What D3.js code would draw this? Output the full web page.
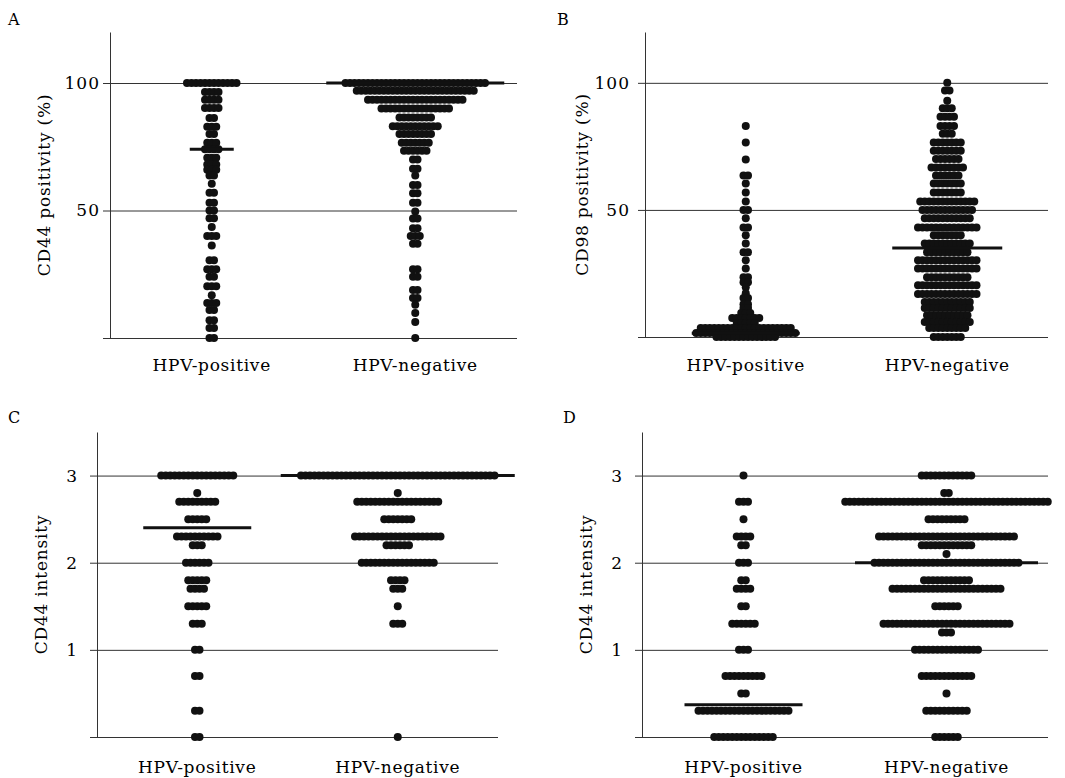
<!DOCTYPE html>
<html>
<head>
<meta charset="utf-8">
<script src="https://cdn.jsdelivr.net/npm/d3@7"></script>
<style>
  body { margin: 0; background: #fff; }
  svg text { font-family: "DejaVu Serif", "Liberation Serif", serif; fill: #000; }
</style>
</head>
<body>
<svg id="chart" width="1065" height="778"></svg>
<script>
let groups = ["HPV-positive", "HPV-negative"];

// each row of dots: [value, number of samples at that value]
let cd44PctPositive = [
  [100, 12], [96.5, 4], [93.4, 4], [90.2, 4], [86.3, 2], [82.8, 3], [80, 2], [76.6, 3],
  [74, 4], [70.7, 3], [68, 3], [66, 3], [63.7, 2], [60.5, 1], [57, 2], [53, 2], [50, 2],
  [47, 2], [43.5, 1], [40, 3], [36.3, 1], [30.5, 2], [27, 3], [24, 2], [20.3, 3], [16.8, 1],
  [13.7, 3], [11, 2], [7, 2], [3.9, 2], [0, 2]
];
let cd44PctNegative = [
  [100, 32], [97, 27], [93.4, 22], [90, 16], [86.5, 8], [83, 11], [80, 8], [76.6, 7],
  [73.4, 6], [70, 2], [66.4, 2], [63.7, 1], [60, 2], [56.8, 2], [53, 2], [49.6, 1],
  [46.9, 2], [43, 2], [40, 3], [37, 2], [27, 2], [24, 2], [18.8, 2], [15.7, 2], [13, 1],
  [9.8, 1], [6.3, 1], [0, 1]
];
let cd98PctPositive = [
  [83, 1], [76.5, 1], [69.8, 1], [63.5, 2], [60.4, 1], [56.9, 1], [53.3, 1], [50, 2],
  [46.7, 1], [43.1, 2], [40, 1], [36.8, 1], [33.3, 2], [30.2, 1], [27, 1], [23.5, 2],
  [21.5, 2], [19.6, 1], [17.2, 1], [15.3, 2], [12.9, 2], [11.4, 2], [9.4, 3], [7.5, 7],
  [5.5, 5], [3.5, 21], [1.6, 23], [0, 14]
];
let cd98PctNegative = [
  [100, 1], [97, 2], [93, 1], [90, 3], [86.7, 4], [83, 4], [80, 3], [76.5, 7], [73.3, 7],
  [70, 6], [66.7, 8], [63.5, 6], [60.4, 7], [56.9, 7], [53.3, 13], [50, 12], [46.7, 11],
  [43.1, 14], [40, 7], [36.8, 11], [33.3, 10], [30.2, 14], [27, 14], [23.5, 10], [20.4, 14],
  [16.9, 14], [13.8, 11], [11.4, 11], [8.6, 10], [5.9, 11], [3.5, 9], [0, 7]
];
let cd44IntPositiveC = [
  [3, 17], [2.8, 1], [2.7, 9], [2.5, 5], [2.3, 10], [2.2, 3], [2, 6], [1.8, 5], [1.7, 4],
  [1.5, 5], [1.3, 3], [1, 2], [0.7, 2], [0.3, 2], [0, 2]
];
let cd44IntNegativeC = [
  [3, 44], [2.8, 1], [2.7, 19], [2.5, 7], [2.3, 20], [2.2, 6], [2, 17], [1.8, 4], [1.7, 3],
  [1.5, 1], [1.3, 3], [0, 1]
];
let cd44IntPositiveD = [
  [3, 1], [2.7, 3], [2.5, 1], [2.3, 4], [2.2, 2], [2, 3], [1.8, 2], [1.7, 4], [1.5, 2],
  [1.3, 6], [1, 3], [0.7, 9], [0.5, 2], [0.3, 21], [0, 14]
];
let cd44IntNegativeD = [
  [3, 12], [2.8, 2], [2.7, 46], [2.5, 9], [2.3, 31], [2.2, 12], [2.1, 1], [2, 33], [1.8, 11],
  [1.7, 25], [1.5, 6], [1.3, 29], [1.2, 3], [1, 15], [0.7, 12], [0.5, 1], [0.3, 10], [0, 6]
];

let meansA = [74, 100];
let meansB = [1.5, 35];
let meansC = [2.4, 3];
let meansD = [0.37, 2];

let pctTicks = [0, 50, 100];
let intTicks = [0, 1, 2, 3];

// layout of the four panels
let panels = [
  { letter: "A", lx: 8, ly: 25, axisX: 110, right: 517, top: 32, bottom: 338, labelY: 371,
    titleX: 50, title: "CD44 positivity (%)", domain: [0, 120], ticks: pctTicks, pad: 10,
    rows: [cd44PctPositive, cd44PctNegative], means: meansA, meanW: [44, 178] },
  { letter: "B", lx: 557, ly: 25, axisX: 645, right: 1048, top: 32, bottom: 337, labelY: 371,
    titleX: 588, title: "CD98 positivity (%)", domain: [0, 120], ticks: pctTicks, pad: 15,
    rows: [cd98PctPositive, cd98PctNegative], means: meansB, meanW: [108, 110] },
  { letter: "C", lx: 8, ly: 423, axisX: 97, right: 498, top: 432, bottom: 737, labelY: 773,
    titleX: 47, title: "CD44 intensity", domain: [0, 3.5], ticks: intTicks, pad: 19,
    rows: [cd44IntPositiveC, cd44IntNegativeC], means: meansC, meanW: [108, 234] },
  { letter: "D", lx: 563, ly: 423, axisX: 642, right: 1048, top: 432, bottom: 737, labelY: 773,
    titleX: 592, title: "CD44 intensity", domain: [0, 3.5], ticks: intTicks, pad: 19,
    rows: [cd44IntPositiveD, cd44IntNegativeD], means: meansD, meanW: [118, 183] }
];

let svg = d3.select("#chart");
let dotR = 4;
let dotStep = 4.5;

panels.forEach(function (p) {
  let g = svg.append("g");

  let y = d3.scaleLinear().domain(p.domain).range([p.bottom, p.top]);
  let x = d3.scalePoint().domain(groups).range([p.axisX, p.right]).padding(0.5);

  let axis = g.append("g")
    .attr("transform", `translate(${p.axisX},0)`)
    .call(
      d3.axisLeft(y)
        .tickValues(p.ticks)
        .tickSizeInner(-(p.right - p.axisX))
        .tickSizeOuter(0)
        .tickPadding(p.pad)
        .tickFormat(function (d) { return d === 0 ? "" : d; })
    );
  axis.attr("font-family", null);
  axis.select(".domain").attr("stroke", "#333");
  axis.selectAll(".tick line").attr("stroke", "#333").attr("x1", -7);
  axis.selectAll(".tick text")
    .attr("font-size", 17)
    .attr("letter-spacing", "1px")
    .attr("fill", "#000");

  // dots
  groups.forEach(function (name, gi) {
    let cx = x(name);
    let dots = [];
    p.rows[gi].forEach(function (r) {
      for (let i = 0; i < r[1]; i++) {
        dots.push({ v: r[0], off: (i - (r[1] - 1) / 2) * dotStep });
      }
    });
    g.append("g")
      .selectAll("circle")
      .data(dots)
      .enter()
      .append("circle")
      .attr("cx", function (d) { return cx + d.off; })
      .attr("cy", function (d) { return y(d.v); })
      .attr("r", dotR)
      .attr("fill", "#111");

    g.append("line")
      .attr("x1", cx - p.meanW[gi] / 2)
      .attr("x2", cx + p.meanW[gi] / 2)
      .attr("y1", y(p.means[gi]))
      .attr("y2", y(p.means[gi]))
      .attr("stroke", "#111")
      .attr("stroke-width", 3);

    g.append("text")
      .attr("x", cx)
      .attr("y", p.labelY)
      .attr("text-anchor", "middle")
      .attr("font-size", 17)
      .attr("letter-spacing", "0.7px")
      .text(name);
  });

  g.append("text")
    .attr("transform", `translate(${p.titleX},${(p.top + p.bottom) / 2}) rotate(-90)`)
    .attr("text-anchor", "middle")
    .attr("font-size", 17)
    .attr("letter-spacing", "0.8px")
    .text(p.title);

  g.append("text")
    .attr("x", p.lx)
    .attr("y", p.ly)
    .attr("font-size", 16)
    .text(p.letter);
});
</script>
</body>
</html>
